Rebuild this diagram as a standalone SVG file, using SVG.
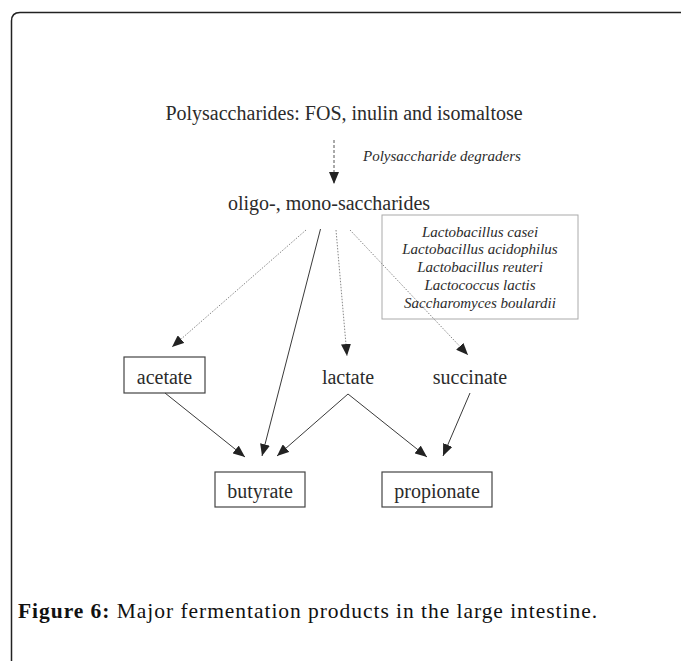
<svg xmlns="http://www.w3.org/2000/svg" width="681" height="661" viewBox="0 0 681 661">
  <defs>
    <marker id="ah" viewBox="0 0 12 10" refX="12" refY="5" markerWidth="12" markerHeight="10" markerUnits="userSpaceOnUse" orient="auto">
      <path d="M0,0 L12,5 L0,10 z" fill="#222"/>
    </marker>
    <style>
      .t { font-family: "Liberation Serif", "Times New Roman", serif; fill: #2b2b2b; }
      .main { font-size: 20px; }
      .it { font-size: 15px; font-style: italic; }
      .box { fill: none; stroke: #444; stroke-width: 1.2; }
      .sol { stroke: #3a3a3a; stroke-width: 1; fill: none; }
      .dot { stroke: #888; stroke-width: 1; stroke-dasharray: 1.5 1.5; fill: none; }
      .dash { stroke: #555; stroke-width: 1; stroke-dasharray: 3 2; fill: none; }
      .cap { font-family: "Liberation Serif", "Times New Roman", serif; font-size: 21.5px; fill: #111; }
    </style>
  </defs>
  <rect width="681" height="661" fill="#fff"/>
  <path d="M11.5,661 V21 Q11.5,12.5 20,12.5 H681" fill="none" stroke="#222" stroke-width="1.5"/>

  <g id="polysaccharides">
    <text class="t main" x="344" y="120" text-anchor="middle">Polysaccharides: FOS, inulin and isomaltose</text>
  </g>
  <g id="degraders-label">
    <text class="t it" x="363" y="161">Polysaccharide degraders</text>
  </g>
  <g id="oligo">
    <text class="t main" x="329" y="210" text-anchor="middle">oligo-, mono-saccharides</text>
  </g>
  <g id="species-box">
    <rect x="382" y="215" width="196" height="104" fill="none" stroke="#aaa" stroke-width="1"/>
    <text class="t it" x="480" y="237" text-anchor="middle">Lactobacillus casei</text>
    <text class="t it" x="480" y="254" text-anchor="middle">Lactobacillus acidophilus</text>
    <text class="t it" x="480" y="272" text-anchor="middle">Lactobacillus reuteri</text>
    <text class="t it" x="480" y="290" text-anchor="middle">Lactococcus lactis</text>
    <text class="t it" x="480" y="308" text-anchor="middle">Saccharomyces boulardii</text>
  </g>
  <g id="acetate">
    <rect class="box" x="124" y="357" width="81" height="36"/>
    <text class="t main" x="164.5" y="384" text-anchor="middle">acetate</text>
  </g>
  <g id="lactate">
    <text class="t main" x="348" y="384" text-anchor="middle">lactate</text>
  </g>
  <g id="succinate">
    <text class="t main" x="470" y="384" text-anchor="middle">succinate</text>
  </g>
  <g id="butyrate">
    <rect class="box" x="215" y="472" width="90" height="35"/>
    <text class="t main" x="260" y="498" text-anchor="middle">butyrate</text>
  </g>
  <g id="propionate">
    <rect class="box" x="382" y="472" width="110" height="35"/>
    <text class="t main" x="437" y="498" text-anchor="middle">propionate</text>
  </g>

  <g id="connectors">
    <line class="dash" x1="334" y1="140" x2="334" y2="184" marker-end="url(#ah)"/>
    <line class="dot" x1="306" y1="230" x2="172" y2="347" marker-end="url(#ah)"/>
    <line class="sol" x1="320.5" y1="229" x2="262" y2="456" marker-end="url(#ah)"/>
    <line class="dot" x1="336" y1="230" x2="347" y2="356" marker-end="url(#ah)"/>
    <line class="dot" x1="350" y1="230" x2="468" y2="355" marker-end="url(#ah)"/>
    <line class="sol" x1="165" y1="393" x2="245" y2="457" marker-end="url(#ah)"/>
    <line class="sol" x1="348" y1="394" x2="277" y2="456" marker-end="url(#ah)"/>
    <line class="sol" x1="348" y1="394" x2="427" y2="457" marker-end="url(#ah)"/>
    <line class="sol" x1="470" y1="393" x2="443" y2="456" marker-end="url(#ah)"/>
  </g>

  <g id="caption">
    <text class="cap" x="18" y="618" textLength="579" lengthAdjust="spacing"><tspan font-weight="bold">Figure 6:</tspan> Major fermentation products in the large intestine.</text>
  </g>
</svg>
